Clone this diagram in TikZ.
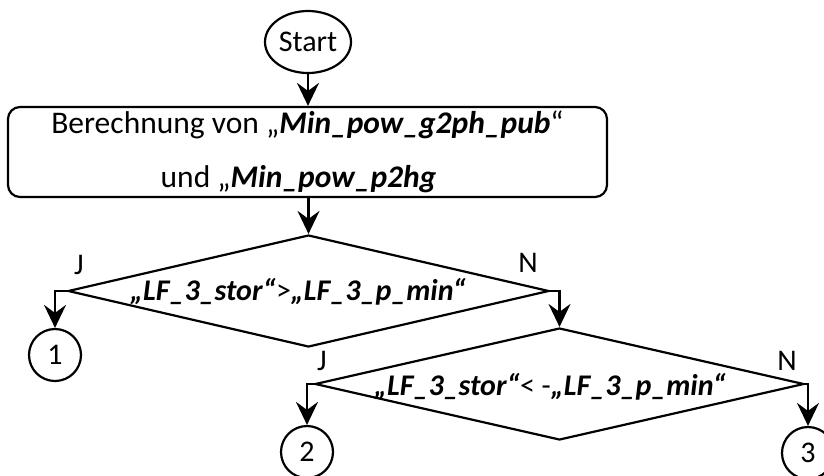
\documentclass[tikz,border=0pt]{standalone}
\usepackage{fontspec}
\setmainfont{Carlito}
\usetikzlibrary{arrows.meta,shapes.geometric}

\begin{document}
\begin{tikzpicture}[x=1pt,y=-1pt,line width=2.2pt,
  flow/.style={-{Stealth[length=23pt,width=22pt,inset=8pt]}},
  terminal/.style={draw,ellipse,minimum width=86,minimum height=62,inner sep=0pt,
    font=\fontsize{30}{34}\selectfont},
  process/.style={draw,rounded corners=12pt,minimum width=599,minimum height=90,
    align=center,inner sep=0pt,font=\fontsize{31.5}{37}\selectfont},
  decision/.style={draw,diamond,inner sep=0pt},
  condtext/.style={inner sep=0pt,font=\fontsize{30}{34}\selectfont},
  connector/.style={draw,circle,minimum size=52,inner sep=0pt,
    font=\fontsize{30}{34}\selectfont},
  branch/.style={inner sep=0pt,font=\fontsize{30}{34}\selectfont}]
\useasboundingbox (0,0) rectangle (824,475);

% start and calculation step
\node[terminal] (start) at (308,42) {Start};
\node[process] (calc) at (307.5,152)
  {Berechnung von „\textbf{\textit{Min\_pow\_g2ph\_pub}}“\\[17pt]
   und „\textbf{\textit{Min\_pow\_p2hg}}\hspace*{18pt}};

% first decision
\node[decision,minimum width=481,minimum height=112] (d1) at (308.5,291) {};
\node[condtext] (t1) at (298,292)
  {\textbf{\textit{„LF\_3\_stor“}}>\textbf{\textit{„LF\_3\_p\_min“}}};

% second decision
\node[decision,minimum width=489,minimum height=112] (d2) at (559.5,384) {};
\node[condtext] (t2) at (550,387)
  {\textbf{\textit{„LF\_3\_stor“}}< -\textbf{\textit{„LF\_3\_p\_min“}}};

% off-page connectors
\node[connector] (c1) at (55,355) {1};
\node[connector] (c2) at (307,452) {2};
\node[connector] (c3) at (808,453) {3};

% branch labels
\node[branch] (j1) at (79,265) {J};
\node[branch] (n1) at (528,263) {N};
\node[branch] (j2) at (322,361) {J};
\node[branch] (n2) at (787,361) {N};

% flow lines
\draw[flow] (start.south) -- (start.south |- calc.north);
\draw[flow] (calc.south -| d1.north) -- (d1.north);
\draw[flow] (d1.west) -| (c1.north);
\draw[flow] (d1.east) -| (d2.north);
\draw[flow] (d2.west) -| (c2.north);
\draw[flow] (d2.east) -| (c3.north);
\end{tikzpicture}
\end{document}
